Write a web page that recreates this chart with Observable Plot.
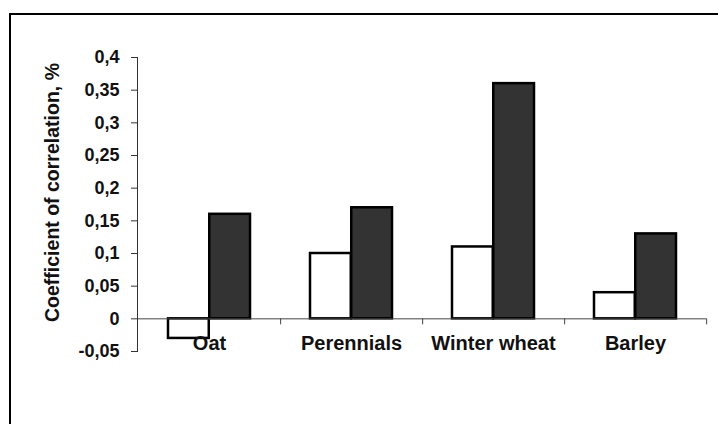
<!DOCTYPE html>
<html>
<head>
<meta charset="utf-8">
<script src="https://cdn.jsdelivr.net/npm/d3@7"></script>
<script src="https://cdn.jsdelivr.net/npm/@observablehq/plot@0.6"></script>
<style>
  html, body { margin: 0; padding: 0; background: #fff; overflow: hidden; }
  #wrap { position: relative; width: 718px; height: 424px; overflow: hidden; }
  #border { position: absolute; left: 9px; top: 13px; width: 900px; height: 600px;
            border-left: 2px solid #000; border-top: 2px solid #000; pointer-events: none; }
  #chart { position: absolute; left: 0; top: 0; }
  svg text { font-family: "Liberation Sans", Arial, sans-serif; font-weight: bold; fill: #111; }
</style>
</head>
<body>
<div id="wrap"><div id="chart"></div><div id="border"></div></div>
<script>
const categories = ["Oat", "Perennials", "Winter wheat", "Barley"];
const seriesWhite = [-0.03, 0.10, 0.11, 0.04];
const seriesDark = [0.16, 0.17, 0.36, 0.13];
const yTicks = [-0.05, 0, 0.05, 0.1, 0.15, 0.2, 0.25, 0.3, 0.35, 0.4];
const yTitle = "Coefficient of correlation, %";

const whiteData = categories.map((c, i) => ({category: c, value: seriesWhite[i]}));
const darkData = categories.map((c, i) => ({category: c, value: seriesDark[i]}));
const fmt = d => String(d).replace(".", ",");

const chart = Plot.plot({
  width: 718,
  height: 424,
  marginLeft: 137,
  marginRight: 12,
  marginTop: 57,
  marginBottom: 73,
  style: {background: "transparent", overflow: "visible"},
  x: {type: "band", domain: categories, paddingInner: 0, paddingOuter: 0, axis: null},
  y: {domain: [-0.05, 0.4], axis: null},
  marks: [
    Plot.barY(whiteData, {x: "category", y: "value", fill: "#fff", stroke: "#000", strokeWidth: 2.5, insetLeft: 30, insetRight: 71.25}),
    Plot.barY(darkData, {x: "category", y: "value", fill: "#333", stroke: "#000", strokeWidth: 2.5, insetLeft: 71.25, insetRight: 30}),
    Plot.ruleY([0], {stroke: "#444", strokeWidth: 1}),
    Plot.ruleX(categories, {x: d => d, y1: 0, y2: 0, dx: 71.125, insetBottom: -6, stroke: "#444", strokeWidth: 1}),
    Plot.frame({anchor: "left", stroke: "#333", strokeWidth: 1}),
    Plot.ruleY(yTicks, {y: d => d, insetLeft: -6, insetRight: 569, stroke: "#333", strokeWidth: 1}),
    Plot.text(yTicks, {y: d => d, text: fmt, frameAnchor: "left", dx: -18, textAnchor: "end",
      lineAnchor: "middle", fontSize: 18, fontWeight: "bold", fill: "#111"}),
    Plot.axisX({tickSize: 0, tickPadding: 0, dy: -16, fontSize: 20, label: null}),
    Plot.text([yTitle], {frameAnchor: "left", text: d => d, rotate: -90, dx: -85, dy: -12,
      textAnchor: "middle", lineAnchor: "middle", fontSize: 19.5, fontWeight: "bold"})
  ]
});
document.getElementById("chart").appendChild(chart);
</script>
</body>
</html>
